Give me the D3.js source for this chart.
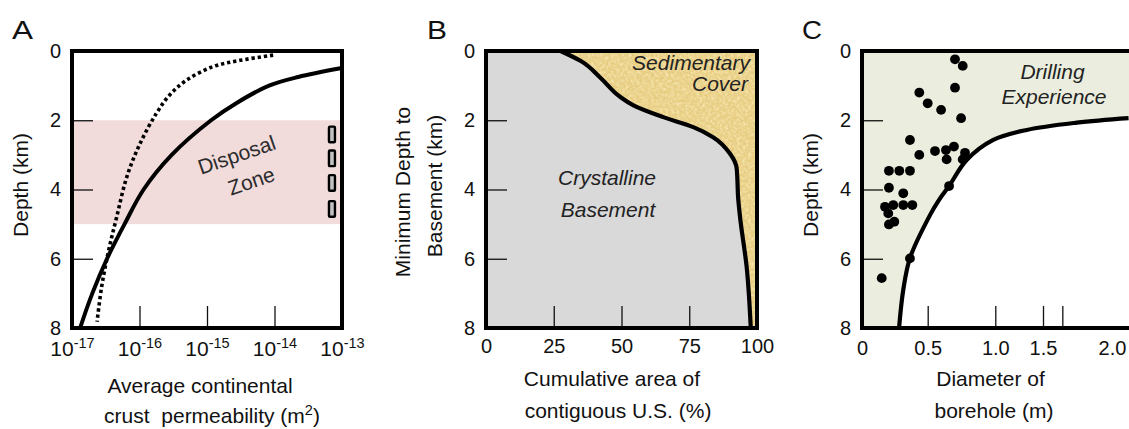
<!DOCTYPE html>
<html>
<head>
<meta charset="utf-8">
<script src="https://cdn.jsdelivr.net/npm/d3@7"></script>
<style>
  html, body { margin: 0; padding: 0; background: #fff; }
  svg { display: block; font-family: "Liberation Sans", Arial, sans-serif; }
</style>
</head>
<body>
<svg id="chart" width="1129" height="429"></svg>
<script>
// ---- data ----
const depthTicks = [0, 2, 4, 6, 8];

// Panel A: permeability (m^2) vs depth (km)
const permTicks = [1e-17, 1e-16, 1e-15, 1e-14, 1e-13];
const solidPerm = [1.32e-17, 2.0e-17, 3.3e-17, 6.0e-17, 1.15e-16, 3.0e-16, 1.15e-15, 2.75e-15, 8.3e-15, 2.25e-14, 9.5e-14];
const solidDepth = [8, 7, 6, 5, 4, 3, 2, 1.5, 1.0, 0.75, 0.5];
const dottedPerm = [2.35e-17, 2.75e-17, 3.5e-17, 4.6e-17, 6.5e-17, 1.02e-16, 1.78e-16, 2.8e-16, 5.0e-16, 1.23e-15, 3.1e-15, 9.55e-15];
const dottedDepth = [7.82, 6.81, 5.75, 4.79, 3.63, 2.67, 1.8, 1.27, 0.84, 0.45, 0.27, 0.12];
const disposalZone = [2, 5];
const canisterPerm = 7.1e-14;
const canisterDepths = [2.41, 3.1, 3.81, 4.56];

// Panel B: cumulative area (%) vs minimum depth to basement (km)
const areaTicks = [0, 25, 50, 75, 100];
const basementPct = [27.5, 35, 42.3, 49.6, 54.4, 65.4, 76.5, 83.8, 90, 92.5, 93.1, 93.75, 96.2, 97.7];
const basementDepth = [0, 0.29, 0.78, 1.33, 1.57, 1.91, 2.2, 2.49, 2.96, 3.39, 4.3, 4.8, 6.25, 8];

// Panel C: borehole diameter (m) vs depth (km)
const diamLabels = [0, 0.5, 1.0, 1.5, 2.0];
const diamTickMarks = [0.5, 1.0, 1.5, 1.64];
const limitDiam = [0.282, 0.314, 0.365, 0.517, 0.584, 0.658, 0.788, 0.985, 1.33, 1.745, 2.12];
const limitDepth = [8, 6.9, 5.98, 4.74, 4.3, 3.9, 3.15, 2.57, 2.28, 2.07, 1.94];
const boreDiam = [0.702, 0.759, 0.702, 0.436, 0.5, 0.599, 0.747, 0.365, 0.694, 0.554, 0.436, 0.635, 0.776, 0.64, 0.759,
  0.205, 0.284, 0.365, 0.205, 0.314, 0.658, 0.175, 0.238, 0.314, 0.383, 0.2, 0.205, 0.246, 0.365, 0.15];
const boreDepth = [0.24, 0.43, 1.06, 1.2, 1.51, 1.7, 1.94, 2.57, 2.76, 2.89, 3.0, 2.86, 2.94, 3.13, 3.13,
  3.46, 3.46, 3.46, 3.95, 4.11, 3.9, 4.5, 4.45, 4.45, 4.45, 4.69, 5.01, 4.93, 5.99, 6.56];

// ---- layout ----
const plotTop = 51, plotBottom = 328;
const font = 20;
const svg = d3.select('#chart');

const y = d3.scaleLinear().domain([0, 8]).range([plotTop, plotBottom]);
const xA = d3.scaleLog().domain([1e-17, 1e-13]).range([72, 342]);
const xB = d3.scaleLinear().domain([0, 100]).range([486, 757]);
const xC = d3.scaleLinear().domain([0, 0.5, 1, 1.5, 2]).range([862, 927.7, 995.3, 1043, 1112]);
const cRight = 1131;

// sand texture for the sedimentary cover
const defs = svg.append('defs');
const sand = defs.append('filter').attr('id', 'sand')
  .attr('color-interpolation-filters', 'sRGB');
sand.append('feTurbulence').attr('type', 'fractalNoise').attr('baseFrequency', 0.35)
  .attr('numOctaves', 3).attr('seed', 7).attr('result', 'noise');
sand.append('feColorMatrix').attr('in', 'noise').attr('type', 'matrix')
  .attr('values', '0 0 0 0 1  0 0 0 0 0.96  0 0 0 0 0.8  1.4 0 0 0 -0.55').attr('result', 'light');
sand.append('feColorMatrix').attr('in', 'noise').attr('type', 'matrix')
  .attr('values', '0 0 0 0 0.8  0 0 0 0 0.68  0 0 0 0 0.36  0 0.7 0 0 -0.4').attr('result', 'dark');
sand.append('feComposite').attr('in', 'light').attr('in2', 'SourceGraphic').attr('operator', 'in').attr('result', 'l2');
sand.append('feComposite').attr('in', 'dark').attr('in2', 'SourceGraphic').attr('operator', 'in').attr('result', 'd2');
const merge = sand.append('feMerge');
merge.append('feMergeNode').attr('in', 'SourceGraphic');
merge.append('feMergeNode').attr('in', 'l2');
merge.append('feMergeNode').attr('in', 'd2');

function styleAxis(g, size) {
  g.select('.domain').remove();
  g.selectAll('.tick line').attr('stroke', '#111').attr('stroke-width', 1.3);
  g.selectAll('.tick text').attr('fill', '#111').style('font-size', size + 'px');
}

function yAxis(x0) {
  svg.append('g')
    .attr('transform', `translate(${x0},0)`)
    .call(d3.axisLeft(y).tickValues(depthTicks).tickSizeInner(-21).tickSizeOuter(0).tickPadding(11))
    .call(g => styleAxis(g, font));
}

function label(x, yPos, txt, opts = {}) {
  return svg.append('text')
    .attr('x', x).attr('y', yPos)
    .attr('text-anchor', opts.anchor || 'middle')
    .attr('fill', opts.fill || '#111')
    .style('font-size', (opts.size || 21) + 'px')
    .style('font-style', opts.italic ? 'italic' : null)
    .text(txt);
}

function vLabel(x, yPos, txt) {
  svg.append('text')
    .attr('transform', `translate(${x},${yPos}) rotate(-90)`)
    .attr('text-anchor', 'middle')
    .attr('fill', '#111')
    .style('font-size', '21px')
    .text(txt);
}

function panelLetter(x, txt, w) {
  label(x, 39, txt, { anchor: 'start', size: 25 })
    .attr('textLength', w).attr('lengthAdjust', 'spacingAndGlyphs');
}

const smooth = d3.curveCatmullRom.alpha(0.5);
const lineOf = (xs, curve) => d3.line().x(d => xs(d[0])).y(d => y(d[1])).curve(curve || smooth);
const byDepth = (a, b) => a[1] - b[1];

// ================= Panel A =================
svg.append('rect')
  .attr('x', xA.range()[0]).attr('width', xA.range()[1] - xA.range()[0])
  .attr('y', y(disposalZone[0])).attr('height', y(disposalZone[1]) - y(disposalZone[0]))
  .attr('fill', '#f1dbdb');

svg.append('path')
  .datum(d3.zip(dottedPerm, dottedDepth).sort(byDepth))
  .attr('d', lineOf(xA))
  .attr('fill', 'none').attr('stroke', '#000').attr('stroke-width', 3.6)
  .attr('stroke-dasharray', '3.3,2.9');

svg.append('path')
  .datum(d3.zip(solidPerm, solidDepth).sort(byDepth))
  .attr('d', lineOf(xA))
  .attr('fill', 'none').attr('stroke', '#000').attr('stroke-width', 4);

// waste canisters
svg.selectAll('.canister')
  .data(canisterDepths)
  .join('rect')
  .attr('class', 'canister')
  .attr('x', xA(canisterPerm) - 3).attr('width', 6)
  .attr('y', d => y(d) - 7.8).attr('height', 15.6)
  .attr('rx', 1)
  .attr('fill', '#c2c2c2').attr('stroke', '#000').attr('stroke-width', 2.4);

const dz = svg.append('g').attr('transform', 'translate(244,168) rotate(-19)');
dz.append('text').attr('x', -2.6).attr('y', -7.5).attr('text-anchor', 'middle')
  .attr('fill', '#2b2b2b').style('font-size', '21px').text('Disposal');
dz.append('text').attr('x', 2.6).attr('y', 22).attr('text-anchor', 'middle')
  .attr('fill', '#2b2b2b').style('font-size', '21px').text('Zone');

yAxis(xA.range()[0]);

svg.append('g')
  .attr('transform', `translate(0,${plotBottom})`)
  .call(d3.axisBottom(xA).tickValues(permTicks).tickSizeInner(-22).tickSizeOuter(0).tickPadding(13.5).tickFormat(() => ''))
  .call(g => styleAxis(g, 21))
  .call(g => g.selectAll('.tick text').each(function (d) {
    const t = d3.select(this);
    t.append('tspan').text('10');
    t.append('tspan').attr('dy', '-8').style('font-size', '14.5px').text(String(Math.round(Math.log10(d))));
  }));

svg.append('rect')
  .attr('x', xA.range()[0]).attr('y', plotTop)
  .attr('width', xA.range()[1] - xA.range()[0]).attr('height', plotBottom - plotTop)
  .attr('fill', 'none').attr('stroke', '#000').attr('stroke-width', 4);

panelLetter(12, 'A', 21);
vLabel(28, 185, 'Depth (km)');
label(200, 393, 'Average continental');
const permTitle = label(212, 423, 'crust\u00a0 permeability (m');
permTitle.append('tspan').attr('dy', -8).style('font-size', '14.5px').text('2');
permTitle.append('tspan').attr('dy', 8).text(')');

// ================= Panel B =================
svg.append('rect')
  .attr('x', xB.range()[0]).attr('y', plotTop)
  .attr('width', xB.range()[1] - xB.range()[0]).attr('height', plotBottom - plotTop)
  .attr('fill', '#d9d9d9');

const basement = d3.zip(basementPct, basementDepth).sort(byDepth);
svg.append('path')
  .datum(basement)
  .attr('d', d3.area().y(d => y(d[1])).x0(d => xB(d[0])).x1(xB(100)).curve(d3.curveMonotoneY))
  .attr('fill', '#e9cf85')
  .attr('filter', 'url(#sand)');

svg.append('path')
  .datum(basement)
  .attr('d', lineOf(xB, d3.curveMonotoneY))
  .attr('fill', 'none').attr('stroke', '#000').attr('stroke-width', 4.2);

yAxis(xB.range()[0]);

svg.append('g')
  .attr('transform', `translate(0,${plotBottom})`)
  .call(d3.axisBottom(xB).tickValues(areaTicks).tickSizeInner(-22).tickSizeOuter(0).tickPadding(11))
  .call(g => styleAxis(g, font));

svg.append('rect')
  .attr('x', xB.range()[0]).attr('y', plotTop)
  .attr('width', xB.range()[1] - xB.range()[0]).attr('height', plotBottom - plotTop)
  .attr('fill', 'none').attr('stroke', '#000').attr('stroke-width', 4);

label(750, 69.5, 'Sedimentary', { anchor: 'end', italic: true, fill: '#222' });
label(748, 91, 'Cover', { anchor: 'end', italic: true, fill: '#222' });
label(607, 184.5, 'Crystalline', { italic: true, fill: '#222' });
label(608, 216.5, 'Basement', { italic: true, fill: '#222' });

panelLetter(427, 'B', 20);
vLabel(410, 192, 'Minimum Depth to');
vLabel(442, 186, 'Basement (km)');
label(612, 386, 'Cumulative area of');
label(618, 418, 'contiguous U.S. (%)');

// ================= Panel C =================
svg.append('rect')
  .attr('x', xC(0)).attr('y', plotTop)
  .attr('width', cRight - xC(0)).attr('height', plotBottom - plotTop)
  .attr('fill', '#ebeede');

const limit = d3.zip(limitDiam, limitDepth).sort(byDepth);
svg.append('path')
  .datum(limit)
  .attr('d', d3.area().y(d => y(d[1])).x0(d => xC(d[0])).x1(cRight).curve(smooth))
  .attr('fill', '#fff');

svg.selectAll('.bore')
  .data(d3.zip(boreDiam, boreDepth))
  .join('circle')
  .attr('class', 'bore')
  .attr('cx', d => xC(d[0])).attr('cy', d => y(d[1]))
  .attr('r', 4.9)
  .attr('fill', '#000');

svg.append('path')
  .datum(limit)
  .attr('d', lineOf(xC))
  .attr('fill', 'none').attr('stroke', '#000').attr('stroke-width', 4.2);

yAxis(xC(0));

svg.append('g')
  .attr('transform', `translate(0,${plotBottom})`)
  .call(d3.axisBottom(xC).tickValues(diamTickMarks).tickSizeInner(-22).tickSizeOuter(0).tickFormat(() => ''))
  .call(g => styleAxis(g, font));

svg.append('g')
  .attr('transform', `translate(0,${plotBottom})`)
  .call(d3.axisBottom(xC).tickValues(diamLabels).tickSize(0).tickPadding(12.5).tickFormat(d => d === 0 ? '0' : d3.format('.1f')(d)))
  .call(g => styleAxis(g, font));

svg.append('path')
  .attr('d', `M${cRight},${plotTop}H${xC(0)}V${plotBottom}H${cRight}`)
  .attr('fill', 'none').attr('stroke', '#000').attr('stroke-width', 4);

label(1052.5, 78.5, 'Drilling', { italic: true, fill: '#222' });
label(1054, 104, 'Experience', { italic: true, fill: '#222' });

panelLetter(802, 'C', 20);
vLabel(818, 185, 'Depth (km)');
label(990.5, 386, 'Diameter of');
label(994, 418, 'borehole (m)');
</script>
</body>
</html>
